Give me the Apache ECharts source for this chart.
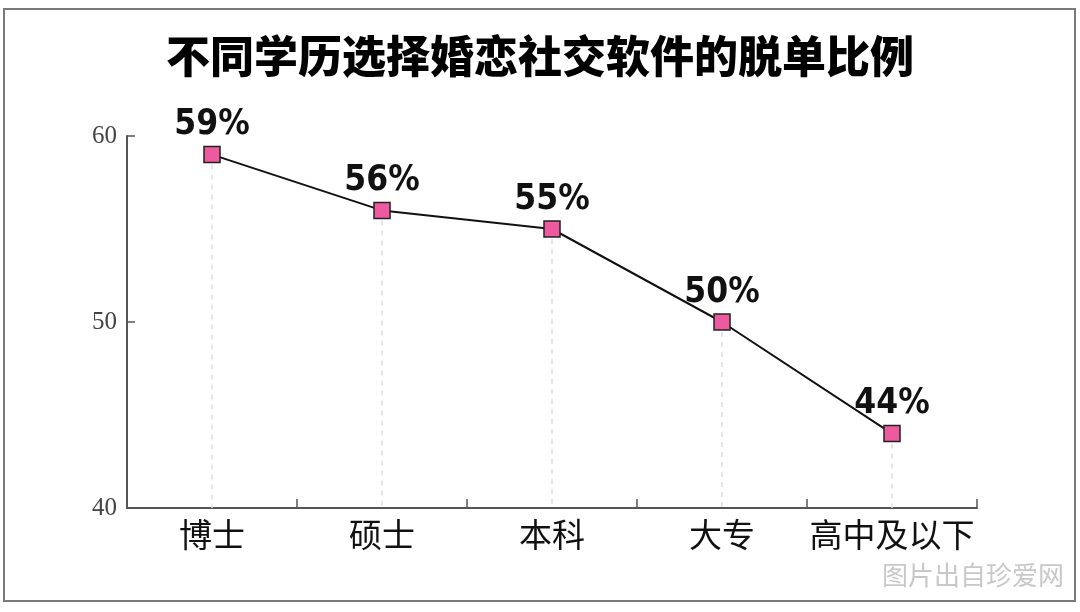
<!DOCTYPE html>
<html><head><meta charset="utf-8">
<style>html,body{margin:0;padding:0;background:#fff}#c{width:1080px;height:612px}</style>
<script src="https://cdn.jsdelivr.net/npm/echarts@6/dist/echarts.min.js"></script>
</head><body><div id="c"></div>
<script>
const categories = ['博士', '硕士', '本科', '大专', '高中及以下'];
const values = [59, 56, 55, 50, 44];
const yTicks = [40, 50, 60];
const title = '不同学历选择婚恋社交软件的脱单比例';
const source = '图片出自珍爱网';

const chart = echarts.init(document.getElementById('c'));
chart.setOption({
  backgroundColor: '#fff',
  animation: false,
  title: {
    text: title, left: 'center', top: 29,
    textStyle: { fontFamily: 'Noto Sans CJK SC', fontWeight: 900, fontSize: 44, color: '#000' }
  },
  graphic: [
    { type: 'rect', shape: { x: 4, y: 9, width: 1071, height: 592 }, style: { fill: 'none', stroke: '#7a7a7a', lineWidth: 2 }, z: -1 },
    { type: 'text', right: 16, top: 562, style: { text: source, fontFamily: 'Noto Sans CJK SC', fontSize: 26, fill: '#c8c8c8' } }
  ],
  grid: { left: 127, right: 103, top: 136, bottom: 104 },
  xAxis: {
    type: 'category', data: categories, boundaryGap: true,
    axisLine: { lineStyle: { color: '#555', width: 2 } },
    axisTick: { show: true, inside: true, length: 9, lineStyle: { color: '#555', width: 1.5 } },
    axisLabel: { interval: 0, fontFamily: 'Noto Sans CJK SC', fontSize: 33, color: '#111', margin: 10 }
  },
  yAxis: {
    type: 'value', min: yTicks[0], max: yTicks[yTicks.length - 1], interval: 10,
    axisLine: { show: true, lineStyle: { color: '#555', width: 2 } },
    axisTick: { show: true, inside: true, length: 8, lineStyle: { color: '#555', width: 1.5 } },
    axisLabel: { fontFamily: 'Liberation Serif', fontSize: 25, color: '#444', margin: 10 },
    splitLine: { show: false }
  },
  series: [{
    type: 'line', data: values, symbol: 'none',
    lineStyle: { opacity: 0 }, silent: true, z: 1,
    markLine: {
      silent: true, symbol: 'none', label: { show: false }, z: 1,
      lineStyle: { type: [5, 5], color: '#e2dde0', width: 1.5 },
      data: categories.map((c, i) => [{ coord: [c, values[i]] }, { coord: [c, yTicks[0]] }])
    }
  }, {
    type: 'line', data: values,
    symbol: 'rect', symbolSize: 16,
    itemStyle: { color: '#ee5a9f', borderColor: '#222', borderWidth: 1.5 },
    lineStyle: { color: '#111', width: 2 },
    label: {
      show: true, position: 'top', distance: 3,
      formatter: p => p.value + '%',
      fontFamily: 'DejaVu Sans Condensed', fontWeight: 'bold', fontSize: 35, color: '#111'
    },
    z: 3
  }]
});
</script></body></html>
